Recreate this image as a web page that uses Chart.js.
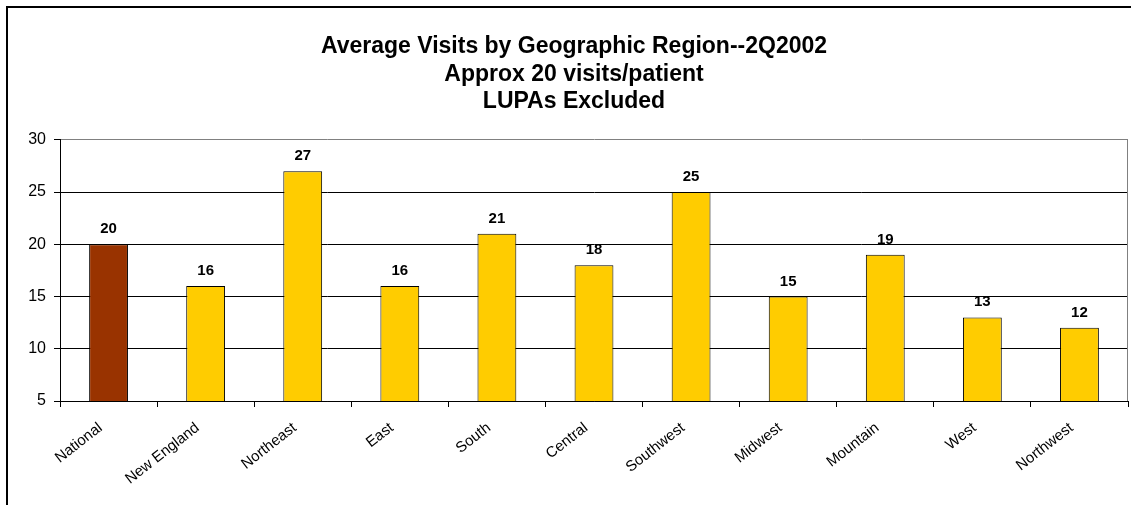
<!DOCTYPE html>
<html>
<head>
<meta charset="utf-8">
<script src="https://cdn.jsdelivr.net/npm/chart.js@4/dist/chart.umd.min.js"></script>
<style>
  html, body { margin: 0; padding: 0; background: #fff; }
  #wrap { width: 1131px; height: 505px; position: relative; }
</style>
</head>
<body>
<div id="wrap"><canvas id="chart"></canvas></div>
<script>
var regions = ['National', 'New England', 'Northeast', 'East', 'South', 'Central',
  'Southwest', 'Midwest', 'Mountain', 'West', 'Northwest'];
var avgVisits = [20, 16, 27, 16, 21, 18, 25, 15, 19, 13, 12];
var yTicks = [5, 10, 15, 20, 25, 30];
var titleLines = ['Average Visits by Geographic Region--2Q2002', 'Approx 20 visits/patient', 'LUPAs Excluded'];

var FONT = 'Arial, "Liberation Sans", sans-serif';

// national bar dark red, regions yellow
var barColors = regions.map(function(r) { return r === 'National' ? '#993300' : '#FFCC00'; });

var framePlugin = {
  id: 'frame',
  beforeDraw: function(chart) {
    var c = chart.ctx;
    c.save();
    c.strokeStyle = '#000';
    c.lineWidth = 2;
    c.beginPath();
    c.moveTo(7, chart.height);
    c.lineTo(7, 7);
    c.lineTo(chart.width, 7);
    c.stroke();
    c.restore();
  },
  afterDraw: function(chart) {
    var a = chart.chartArea;
    var c = chart.ctx;
    c.save();
    c.strokeStyle = '#808080';
    c.lineWidth = 1;
    c.beginPath();
    c.moveTo(Math.round(a.right) - 0.5, a.top);
    c.lineTo(Math.round(a.right) - 0.5, a.bottom);
    c.stroke();
    c.restore();
  }
};

var valueLabels = {
  id: 'valueLabels',
  afterDatasetsDraw: function(chart) {
    var c = chart.ctx;
    var meta = chart.getDatasetMeta(0);
    c.save();
    c.font = 'bold 15px ' + FONT;
    c.fillStyle = '#000';
    c.textAlign = 'center';
    c.textBaseline = 'alphabetic';
    meta.data.forEach(function(bar, i) {
      c.fillText(String(avgVisits[i]), bar.x, bar.y - 11);
    });
    c.restore();
  }
};

new Chart(document.getElementById('chart'), {
  type: 'bar',
  data: {
    labels: regions,
    datasets: [{
      data: avgVisits,
      backgroundColor: barColors,
      borderColor: '#000',
      borderWidth: 1,
      borderSkipped: false,
      categoryPercentage: 1,
      barPercentage: 0.4
    }]
  },
  options: {
    responsive: true,
    maintainAspectRatio: false,
    animation: false,
    layout: { padding: { left: 20, right: 3, top: 0, bottom: 0 } },
    plugins: {
      legend: { display: false },
      tooltip: { enabled: false },
      title: {
        display: true,
        text: titleLines,
        color: '#000',
        font: { family: FONT, size: 23, weight: 'bold', lineHeight: 1.2 },
        padding: { top: 33, bottom: 24 }
      }
    },
    scales: {
      x: {
        grid: { display: true, offset: true, drawOnChartArea: false, drawTicks: true, tickLength: 6, color: '#000' },
        border: { color: '#000' },
        ticks: {
          color: '#000',
          font: { family: FONT, size: 15 },
          minRotation: 38,
          maxRotation: 38,
          autoSkip: false,
          padding: 12,
          labelOffset: -8
        },
        afterFit: function(s) { s.height = 104; }
      },
      y: {
        min: 5,
        max: 30,
        afterBuildTicks: function(s) { s.ticks = yTicks.map(function(v) { return { value: v }; }); },
        grid: {
          color: function(ctx) { return ctx.tick && ctx.tick.value === 30 ? '#808080' : '#000'; },
          tickColor: '#000',
          tickLength: 6
        },
        border: { color: '#000' },
        ticks: {
          color: '#000',
          font: { family: FONT, size: 16 },
          padding: 8
        },
        afterFit: function(s) { s.width = 40; }
      }
    }
  },
  plugins: [framePlugin, valueLabels]
});
</script>
</body>
</html>
